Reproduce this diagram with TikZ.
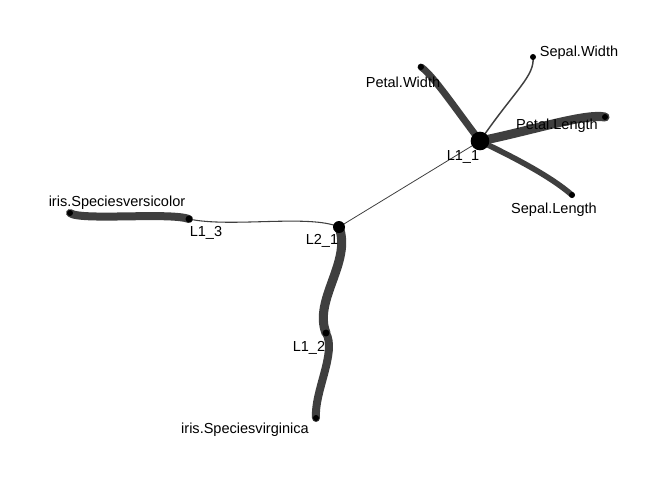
\documentclass[tikz,border=0pt]{standalone}
\usepackage{fontspec}
\setmainfont{Liberation Sans}
\definecolor{edgegray}{HTML}{3F3F3F}
\tikzset{
  dot/.style={circle, fill=black, inner sep=0pt, minimum size=#1},
  dot/.default=4.5pt,
  thickedge/.style={draw=edgegray, line width=#1, line cap=round},
  thinedge/.style={draw=edgegray, line width=#1},
  lbl/.style={font=\fontsize{10.9}{12}\selectfont, inner sep=0pt, yshift=-1.5pt}
}
\begin{document}
\begin{tikzpicture}[x=0.75pt, y=-0.75pt]
\useasboundingbox (0,0) rectangle (672,480);

% Positions
\coordinate (l11) at (480,141);
\coordinate (l21) at (339,227);
\coordinate (l13) at (189,219);
\coordinate (l12) at (326,333);
\coordinate (pw) at (421,67);
\coordinate (sw) at (533,57);
\coordinate (pl) at (605,117);
\coordinate (sl) at (572,195);
\coordinate (vc) at (70,213);
\coordinate (vg) at (316,418);

% Edges
\draw[thinedge=0.6pt] (l11) -- (l21);
\draw[thinedge=1.1pt] (l11) .. controls (515,90) and (535,76) .. (sw);
\draw[thickedge=5.2pt] (l11) .. controls (455,108) and (432,74) .. (pw);
\draw[thickedge=6.8pt] (l11) .. controls (530,131) and (585,113) .. (pl);
\draw[thickedge=4.2pt] (l11) .. controls (515,158) and (550,176) .. (sl);
\draw[thinedge=0.8pt] (l13) .. controls (230,228) and (310,214) .. (l21);
\draw[thickedge=6pt] (l13) .. controls (170,212) and (80,221) .. (vc);
\draw[thickedge=6.8pt] (l21) .. controls (352,262) and (313,300) .. (l12);
\draw[thickedge=6pt] (l12) .. controls (337,352) and (314,392) .. (vg);

% Nodes
\node[dot=14pt] (n11) at (l11) {};
\node[dot=9pt] (n21) at (l21) {};
\node[dot=5.2pt] (n13) at (l13) {};
\node[dot=5.2pt] (n12) at (l12) {};
\node[dot] (npw) at (pw) {};
\node[dot] (nsw) at (sw) {};
\node[dot] (npl) at (pl) {};
\node[dot] (nsl) at (sl) {};
\node[dot] (nvc) at (vc) {};
\node[dot] (nvg) at (vg) {};

% Labels
\node[lbl] (tsw) at (579,51) {Sepal.Width};
\node[lbl] (tpw) at (403,80) {Petal.Width};
\node[lbl] (tpl) at (557,124) {Petal.Length};
\node[lbl] (t11) at (463,155) {L1\_1};
\node[lbl] (tsl) at (554,208) {Sepal.Length};
\node[lbl] (tvc) at (117,201) {iris.Speciesversicolor};
\node[lbl] (t13) at (206,231) {L1\_3};
\node[lbl] (t21) at (322,239) {L2\_1};
\node[lbl] (t12) at (309,346) {L1\_2};
\node[lbl] (tvg) at (245,428) {iris.Speciesvirginica};
\end{tikzpicture}
\end{document}
